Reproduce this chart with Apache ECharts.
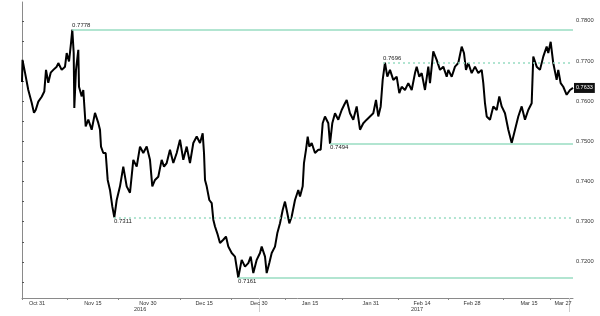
<!DOCTYPE html>
<html><head><meta charset="utf-8">
<script src="https://cdn.jsdelivr.net/npm/echarts@6/dist/echarts.min.js"></script>
<style>html,body{margin:0;padding:0;background:#fff}#c{width:600px;height:316px}</style>
</head><body><div id="c"></div>
<script>
// x = session position (days from Oct 27, 2016), y = AUD/USD price
const xPos = [0.0,0.14,0.84,1.76,2.71,3.35,3.83,4.56,5.51,6.23,6.71,7.35,8.02,8.75,9.70,10.15,11.10,12.02,12.49,13.14,13.69,14.06,14.45,14.62,15.09,15.74,15.93,16.69,17.13,17.80,18.53,19.48,20.40,21.32,21.80,22.08,22.72,23.39,23.95,24.59,25.24,25.80,26.47,27.39,28.31,29.26,30.18,31.11,32.06,32.98,33.90,34.85,35.77,36.42,37.17,38.09,39.04,39.69,40.44,41.36,42.29,43.24,44.16,45.08,46.03,46.95,47.88,48.83,49.75,50.50,50.87,51.15,51.62,52.35,53.02,53.47,53.94,54.58,55.34,56.26,57.01,57.66,58.61,59.53,60.45,61.40,62.33,63.25,63.92,64.65,65.60,66.52,66.99,67.92,68.39,69.12,69.79,70.71,71.35,72.11,72.86,73.50,73.98,74.71,75.38,76.30,77.22,77.70,78.45,78.81,79.37,79.85,80.30,80.97,81.89,82.81,83.48,84.04,84.68,85.61,86.08,86.72,87.48,88.40,89.35,90.27,90.75,91.67,92.59,93.54,94.47,95.39,96.34,97.26,98.18,98.94,99.58,100.25,100.81,101.45,102.10,102.85,103.77,104.72,105.45,106.12,107.04,107.97,108.92,109.84,110.31,111.04,111.71,112.63,113.56,114.03,114.95,115.90,116.83,117.75,118.70,119.15,120.10,121.02,121.94,122.89,123.53,124.09,124.73,125.68,126.61,127.53,128.48,128.93,129.40,129.88,130.80,131.72,132.67,133.40,134.07,134.99,135.92,136.87,137.79,138.71,139.66,140.58,141.50,142.45,142.90,143.85,144.77,145.69,146.64,147.09,147.76,148.48,149.43,149.88,150.55,151.28,152.23,153.16,154.0];
const price = [0.7648,0.7703,0.7671,0.7628,0.7596,0.7571,0.7578,0.7599,0.7611,0.7624,0.7678,0.7646,0.7671,0.7678,0.7686,0.7695,0.7678,0.7686,0.7720,0.7699,0.7744,0.7778,0.7720,0.7583,0.7678,0.7728,0.7636,0.7612,0.7628,0.7537,0.7554,0.7529,0.7571,0.7546,0.7529,0.7487,0.7471,0.7471,0.7404,0.7379,0.7338,0.7311,0.7354,0.7388,0.7437,0.7388,0.7372,0.7454,0.7437,0.7487,0.7471,0.7487,0.7454,0.7388,0.7404,0.7412,0.7454,0.7437,0.7446,0.7479,0.7446,0.7471,0.7504,0.7454,0.7487,0.7446,0.7496,0.7512,0.7496,0.7520,0.7471,0.7404,0.7388,0.7354,0.7346,0.7305,0.7288,0.7271,0.7247,0.7255,0.7263,0.7238,0.7222,0.7213,0.7161,0.7205,0.7188,0.7197,0.7213,0.7172,0.7205,0.7222,0.7238,0.7213,0.7172,0.7197,0.7222,0.7238,0.7271,0.7296,0.7329,0.7350,0.7329,0.7296,0.7313,0.7354,0.7379,0.7363,0.7388,0.7446,0.7479,0.7512,0.7487,0.7496,0.7471,0.7479,0.7479,0.7545,0.7562,0.7545,0.7494,0.7545,0.7570,0.7554,0.7578,0.7595,0.7603,0.7570,0.7554,0.7587,0.7529,0.7545,0.7554,0.7562,0.7570,0.7603,0.7562,0.7587,0.7653,0.7696,0.7661,0.7678,0.7653,0.7661,0.7620,0.7636,0.7628,0.7645,0.7628,0.7670,0.7686,0.7661,0.7670,0.7628,0.7686,0.7645,0.7724,0.7703,0.7678,0.7686,0.7661,0.7678,0.7661,0.7686,0.7695,0.7736,0.7720,0.7678,0.7695,0.7670,0.7686,0.7670,0.7678,0.7645,0.7595,0.7562,0.7554,0.7587,0.7578,0.7612,0.7587,0.7570,0.7529,0.7496,0.7529,0.7562,0.7587,0.7554,0.7578,0.7595,0.7711,0.7686,0.7678,0.7711,0.7736,0.7720,0.7748,0.7695,0.7653,0.7678,0.7645,0.7636,0.7616,0.7628,0.7633];

const dateLabels = ["Oct 31","Nov 15","Nov 30","Dec 15","Dec 30","Jan 15","Jan 31","Feb 14","Feb 28","Mar 15","Mar 27"];
const dateLabelPos = [4.2,19.8,35.2,50.9,66.2,80.5,97.5,111.8,125.8,141.7,151.2];
const xTickPos = [0,12.6,26.8,44.2,58.4,73.5,89.4,105.1,119.0,134.4,147.6];
const yearLabels = ["2016","2017"];
const yearLabelPos = [33.0,110.4];
const separatorPos = [66.2,152.9];

const yTickLabels = [0.72,0.73,0.74,0.75,0.76,0.77,0.78];
const yTickMarks = [0.715,0.72,0.725,0.73,0.735,0.74,0.745,0.75,0.755,0.76,0.765,0.77,0.775,0.78];

// reference levels: value, start position, dashed?, label side
const levelValues = [0.7778,0.7696,0.7494,0.7311,0.7161];
const levelStart = [14.0,100.9,86.1,25.7,60.4];
const levelDashed = [false,true,false,true,false];
const levelLabelAbove = [true,true,false,false,false];

const X_MIN = 0, X_MAX = 154, Y_MIN = 0.7110, Y_MAX = 0.7847;
const FONT = "Liberation Sans";
const mint = "#98dcc2";

const data = xPos.map((x,i)=>[x,price[i]]);
const markData = levelValues.map((v,i)=>[
  {coord:[levelStart[i],v], label:{show:true, formatter:v.toFixed(4),
     position: levelLabelAbove[i] ? 'insideStartTop' : 'insideStartBottom',
     distance:[0,1], color:'#222', fontSize:6, fontFamily:FONT},
   lineStyle:{type: levelDashed[i] ? [2,3] : 'solid', width: 1.5, color:mint, opacity:1}},
  {coord:[X_MAX,v]}
]);

const labelMap = {};
dateLabelPos.forEach((p,i)=>labelMap[p]=dateLabels[i]);
const yearMap = {};
yearLabelPos.forEach((p,i)=>yearMap[p]=yearLabels[i]);

const chart = echarts.init(document.getElementById('c'), null, {renderer:'canvas'});
chart.setOption({
  animation:false,
  backgroundColor:'#fff',
  grid:{left:22,right:27,top:2,bottom:18},
  xAxis:[{
    type:'value', min:X_MIN, max:X_MAX, position:'bottom',
    splitLine:{show:false},
    axisLine:{show:true,lineStyle:{color:'#8a8a8a',width:1}},
    axisTick:{show:true, customValues:xTickPos, length:2, inside:false, lineStyle:{color:'#8a8a8a'}},
    axisLabel:{customValues:dateLabelPos, formatter:v=>labelMap[v]||'', fontSize:5.5, fontFamily:FONT, color:'#333', margin:2}
  },{
    type:'value', min:X_MIN, max:X_MAX, position:'bottom', gridIndex:0,
    splitLine:{show:false}, axisLine:{show:false},
    axisTick:{show:true, customValues:separatorPos, length:14, lineStyle:{color:'#cccccc'}},
    axisLabel:{customValues:yearLabelPos, formatter:v=>yearMap[v]||'', fontSize:5.5, fontFamily:FONT, color:'#333', margin:8}
  }],
  yAxis:{
    type:'value', min:Y_MIN, max:Y_MAX, position:'right',
    splitLine:{show:false},
    axisLine:{show:true,lineStyle:{color:'#8a8a8a',width:1}},
    axisTick:{show:true, customValues:yTickMarks, length:2, lineStyle:{color:'#555'}},
    axisLabel:{customValues:yTickLabels, formatter:v=>v.toFixed(4), fontSize:5.8, fontFamily:FONT, color:'#333', margin:3}
  },
  series:[{
    type:'line', data:data, symbol:'none', showSymbol:false,
    lineStyle:{color:'#000', width:2},
    endLabel:{show:true, formatter:p=>p.value[1].toFixed(4), backgroundColor:'#111', color:'#fff',
      fontSize:5.5, fontFamily:FONT, padding:[2,2], distance:1},
    markLine:{silent:true, symbol:['none','none'], data:markData},
    z:3
  }]
});
</script></body></html>
